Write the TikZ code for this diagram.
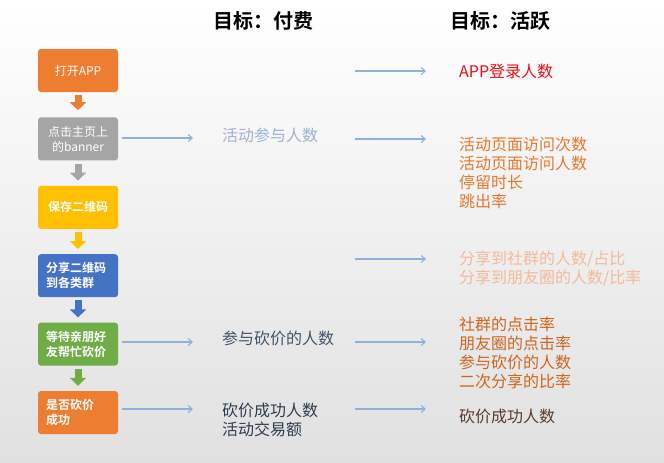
\documentclass[tikz,border=0pt]{standalone}
\usepackage{fontspec}
\setmainfont{Noto Sans CJK SC}[BoldFont={Noto Sans CJK SC Bold}]
\usetikzlibrary{arrows.meta,positioning}

\definecolor{boxorange}{HTML}{ED7D31}
\definecolor{boxgray}{HTML}{A5A5A5}
\definecolor{boxyellow}{HTML}{FFC000}
\definecolor{boxblue}{HTML}{4472C4}
\definecolor{boxgreen}{HTML}{70AD47}
\definecolor{lineblue}{HTML}{8FB0D8}
\definecolor{paleblue}{HTML}{9DB3D6}
\definecolor{slate}{HTML}{44546A}
\definecolor{darkslate}{HTML}{2F3D4F}
\definecolor{kpired}{HTML}{E8101A}
\definecolor{kpiorange}{HTML}{E4792F}
\definecolor{kpisalmon}{HTML}{F4B99A}
\definecolor{kpirust}{HTML}{D0651E}
\definecolor{kpibrown}{HTML}{5A3C2C}

\begin{document}
\begin{tikzpicture}[
  x=1pt, y=-1pt,
  stepbox/.style={rounded corners=3pt, text=white, minimum width=80pt,
                  minimum height=43pt, inner sep=2pt, align=center,
                  font=\fontsize{12}{15}\selectfont},
  leftbox/.style={stepbox, text width=64pt, align=left},
  down/.style={line width=7pt, -{Triangle[length=8pt,width=16pt]}},
  thin/.style={draw=lineblue, line width=1.1pt, -{Straight Barb[length=4pt,width=7pt]}},
  kpi/.style={anchor=west, inner sep=0pt, align=left,
              font=\fontsize{16}{19}\selectfont},
  head/.style={anchor=west, inner sep=0pt, font=\fontsize{20}{24}\selectfont\bfseries}
]

% ---------- background ----------
\shade[top color=white, bottom color=black!12] (0,0) rectangle (664,463);
\useasboundingbox (0,0) rectangle (664,463);

% ---------- headers ----------
\node[head] (paidhead) at (213,21) {目标：付费};
\node[head] (activehead) at (450,21) {目标：活跃};

% ---------- funnel steps ----------
\node[stepbox, fill=boxorange] (open) at (78,70.5) {打开APP};
\node[stepbox, fill=boxgray, below=25pt of open] (banner) {点击主页上\\的banner};
\node[stepbox, fill=boxyellow, below=25pt of banner, font=\fontsize{12}{15}\selectfont\bfseries] (save) {保存二维码};
\node[leftbox, fill=boxblue, below=25pt of save, font=\fontsize{12}{15}\selectfont\bfseries] (share) {分享二维码\\到各类群};
\node[leftbox, fill=boxgreen, below=25pt of share, font=\fontsize{12}{15}\selectfont\bfseries] (wait) {等待亲朋好\\友帮忙砍价};
\node[leftbox, fill=boxorange, below=25pt of wait, font=\fontsize{12}{15}\selectfont\bfseries] (done) {是否砍价\\成功};

\draw[down, boxorange] ([yshift=-3pt]open.south) -- ([yshift=7pt]banner.north);
\draw[down, boxgray] ([yshift=-3pt]banner.south) -- ([yshift=5pt]save.north);
\draw[down, boxyellow] ([yshift=-3pt]save.south) -- ([yshift=5pt]share.north);
\draw[down, boxblue] ([yshift=-3pt]share.south) -- ([yshift=5pt]wait.north);
\draw[down, boxgreen] ([yshift=-3pt]wait.south) -- ([yshift=5pt]done.north);

% ---------- paid metrics ----------
\node[kpi, text=paleblue] (joincount) at (222,135) {活动参与人数};
\node[kpi, text=slate] (bargaincount) at (222,338) {参与砍价的人数};
\node[kpi, text=darkslate] (successpaid) at (222,419.5) {砍价成功人数\\活动交易额};

\coordinate (bannerend) at (193,138);
\coordinate (waitend) at (193,342);
\coordinate (doneend) at (193,409);
\draw[thin] ([xshift=4pt]banner.east |- bannerend) -- (bannerend);
\draw[thin] ([xshift=4pt]wait.east |- waitend) -- (waitend);
\draw[thin] ([xshift=4pt]done.east |- doneend) -- (doneend);

% ---------- active metrics ----------
\node[kpi, text=kpired] (login) at (459,71) {APP登录人数};
\node[kpi, text=kpiorange] (visits) at (459,173) {活动页面访问次数\\活动页面访问人数\\停留时长\\跳出率};
\node[kpi, text=kpisalmon] (shares) at (459,268.5) {分享到社群的人数/占比\\分享到朋友圈的人数/比率};
\node[kpi, text=kpirust] (clicks) at (459,353) {社群的点击率\\朋友圈的点击率\\参与砍价的人数\\二次分享的比率};
\node[kpi, text=kpibrown] (successactive) at (459,416) {砍价成功人数};

\foreach \y/\name in {71/a, 139/b, 259/c, 342/d, 409/e} {
  \coordinate (from\name) at (355,\y);
  \coordinate (to\name) at (426,\y);
  \draw[thin] (from\name) -- (to\name);
}

\end{tikzpicture}
\end{document}
